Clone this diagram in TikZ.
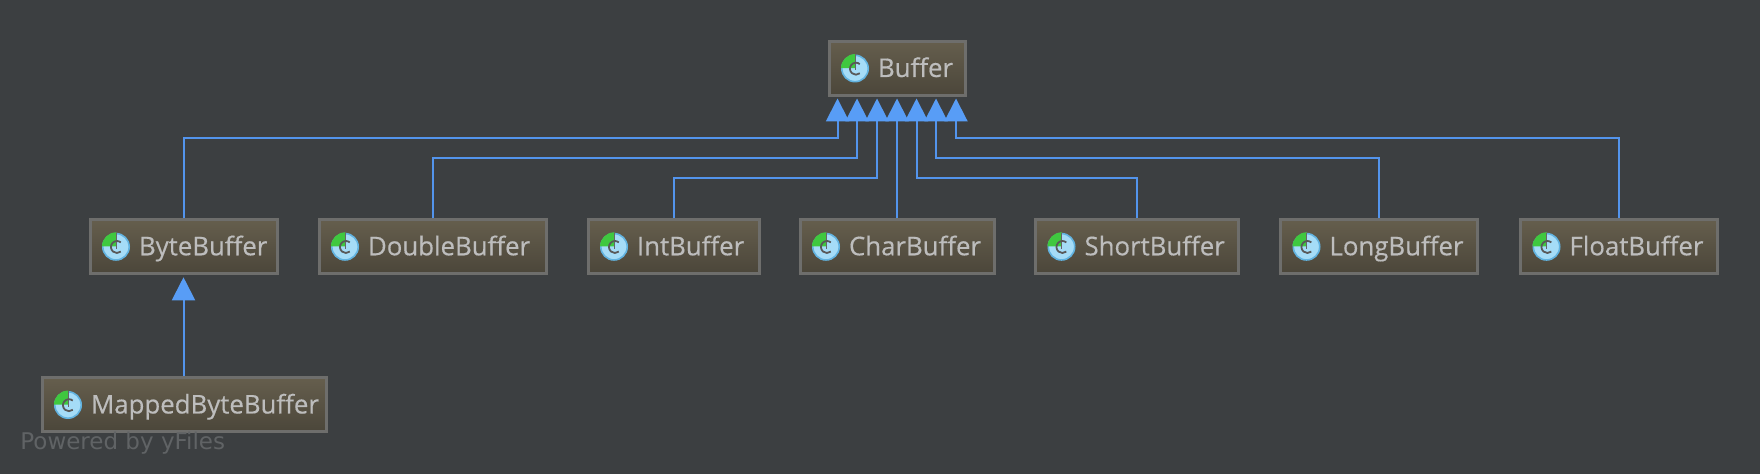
\documentclass[tikz,border=0pt]{standalone}
\usepackage{fontspec}
\newfontfamily\boxfont{Open Sans}[FakeBold=0.4]
\newfontfamily\markfont{DejaVu Sans}
\usetikzlibrary{arrows.meta}
\definecolor{canvasbg}{HTML}{3C3F41}
\definecolor{boxline}{HTML}{6E6E6C}
\definecolor{boxtop}{HTML}{655E4D}
\definecolor{boxbot}{HTML}{4B463A}
\definecolor{boxtext}{HTML}{BDBDBD}
\definecolor{edgeblue}{HTML}{5394EC}
\definecolor{tipblue}{HTML}{589DF6}
\definecolor{iconblue}{HTML}{A5DCF7}
\definecolor{iconrim}{HTML}{62B3E0}
\definecolor{icongreen}{HTML}{3FC83F}
\definecolor{markgray}{HTML}{606365}
\tikzset{
    classbox/.style={draw=boxline, line width=1.5pt, top color=boxtop, bottom color=boxbot,
        text=boxtext, font=\boxfont\fontsize{12.9}{15}\selectfont, anchor=west, inner xsep=0pt, inner ysep=0pt,
        minimum height=27pt, text height=10.5pt, text depth=2pt, text width=#1, align=flush left},
    extends/.style={draw=edgeblue, line width=1pt, -{Triangle[length=11.5pt, width=11.5pt, color=tipblue]}},
    classicon/.pic={
        \fill[iconblue] (0,0) circle (6.6pt);
        \draw[iconrim, line width=.8pt] (0,0) circle (6.6pt);
        \fill[icongreen] (.2pt,.2pt) -- (-7pt,.2pt) arc (180:90:7pt) -- (.2pt,7.2pt) -- cycle;
        \draw[gray!80!black, line width=.5pt] (.2pt,7pt) -- (.2pt,-1pt);
        \draw[black!65, line width=.9pt] (2.4pt,2.2pt) arc (50:310:3pt);
    }
}
\begin{document}
\begin{tikzpicture}[x=.5pt, y=-.5pt]
    \useasboundingbox[fill=canvasbg] (0,0) rectangle (1760,474);

    % left side of each box, text sits after the icon
    \node[classbox=68pt] (buffer) at (827.5,68.5) {\hspace*{24.5pt}Buffer};
    \node[classbox=93.5pt] (bytebuf) at (88.5,246.8) {\hspace*{24.5pt}ByteBuffer};
    \node[classbox=113.5pt] (doublebuf) at (317.5,246.8) {\hspace*{24.5pt}DoubleBuffer};
    \node[classbox=85.5pt] (intbuf) at (586.5,246.8) {\hspace*{24.5pt}IntBuffer};
    \node[classbox=97pt] (charbuf) at (798.5,246.8) {\hspace*{24.5pt}CharBuffer};
    \node[classbox=101.5pt] (shortbuf) at (1034,246.8) {\hspace*{24.5pt}ShortBuffer};
    \node[classbox=98.5pt] (longbuf) at (1279,246.8) {\hspace*{24.5pt}LongBuffer};
    \node[classbox=98.5pt] (floatbuf) at (1519,246.8) {\hspace*{24.5pt}FloatBuffer};
    \node[classbox=142pt] (mappedbuf) at (40.5,405) {\hspace*{24.5pt}MappedByteBuffer};

    \foreach \n in {buffer,bytebuf,doublebuf,intbuf,charbuf,shortbuf,longbuf,floatbuf,mappedbuf}{
        \path (\n.west) ++(27.5,0) pic {classicon};
    }

    \foreach \i/\x in {0/837.5,1/857,2/877,3/897,4/916.5,5/936,6/956}{
        \coordinate (t\i) at (\x,98.5);
    }

    \foreach \n/\i/\y in {bytebuf/0/138,doublebuf/1/158,intbuf/2/178,shortbuf/4/178,longbuf/5/158,floatbuf/6/138}{
        \draw[extends] (\n.north) |- (t\i |- 0,\y) -- (t\i);
    }
    \draw[extends] (charbuf.north) -- (charbuf.north |- t3);
    \draw[extends, shorten >=1pt] (mappedbuf.north -| bytebuf.south) -- (bytebuf.south);

    \node[anchor=base west, inner sep=0pt, text=markgray, font=\markfont\fontsize{11.5}{13}\selectfont] (yfiles) at (20,450) {Powered by yFiles};
\end{tikzpicture}
\end{document}
